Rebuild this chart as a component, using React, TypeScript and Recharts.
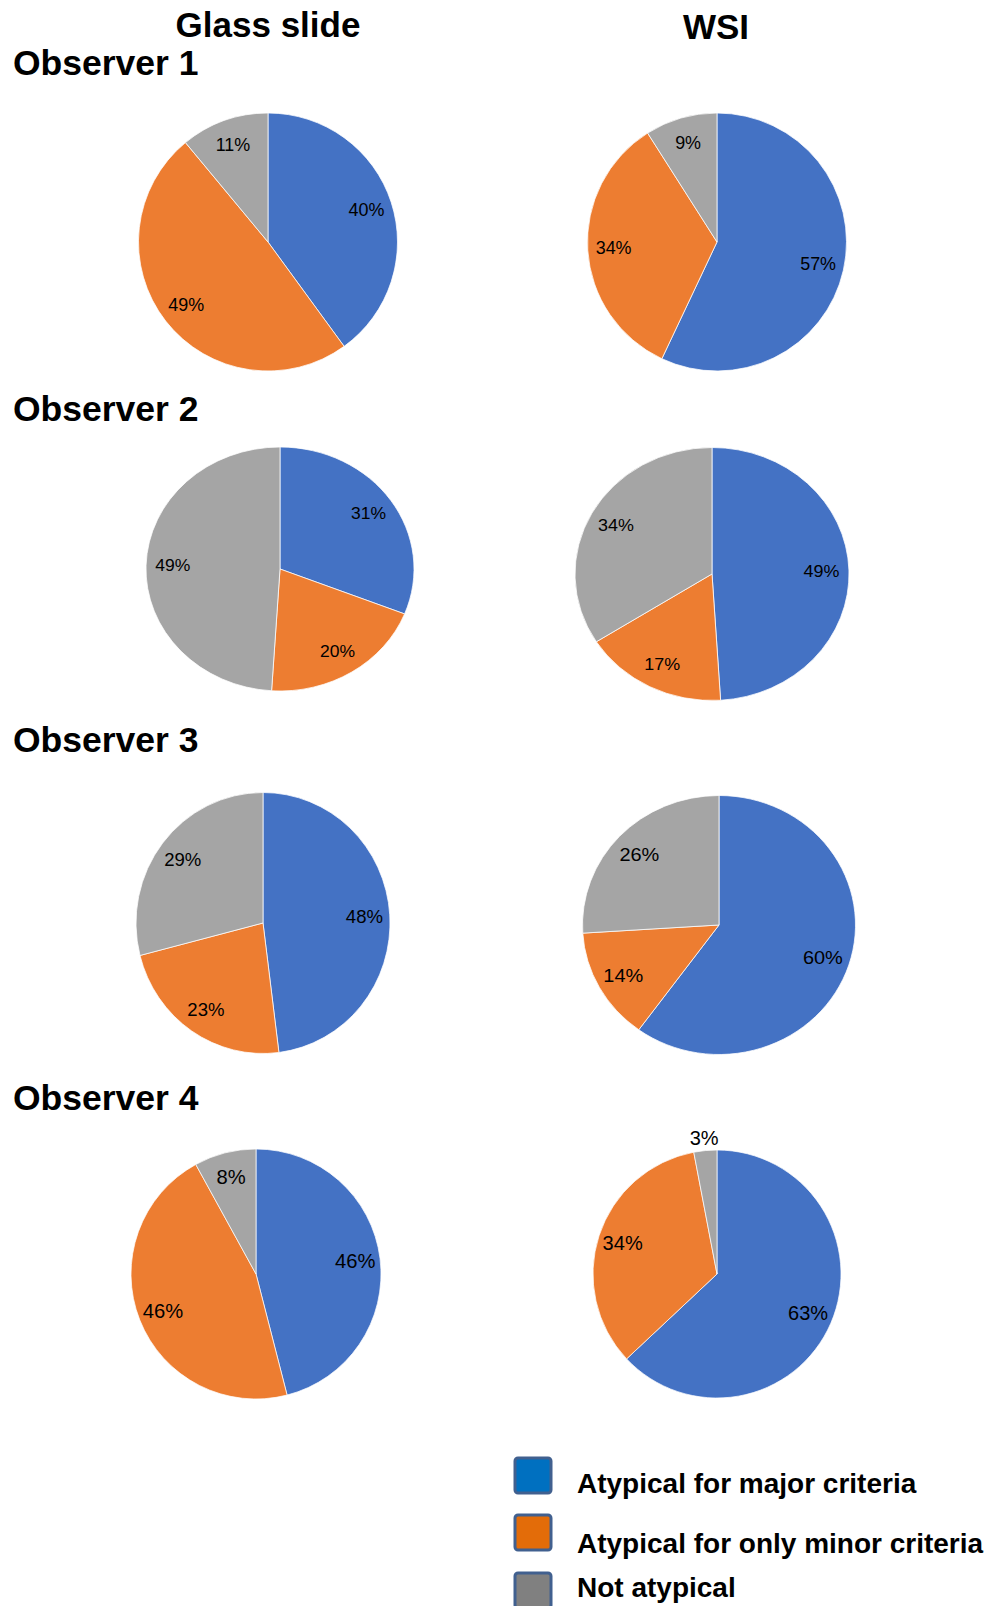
import React from 'react';
import { PieChart, Pie, Cell } from 'recharts';

// categories (legend order = slice order, clockwise from 12 o'clock)
const categories = ['Atypical for major criteria', 'Atypical for only minor criteria', 'Not atypical'];
const observers = ['Observer 1', 'Observer 2', 'Observer 3', 'Observer 4'];
const columns = ['Glass slide', 'WSI'];

// % of cases per observer
const glassSlide = [
  [40, 49, 11],
  [31, 20, 49],
  [48, 23, 29],
  [46, 46, 8],
];
const wsi = [
  [57, 34, 9],
  [49, 17, 34],
  [60, 14, 26],
  [63, 34, 3],
];

const sliceColors = ['#4472C4', '#ED7D31', '#A5A5A5'];
const legendColors = ['#0070C0', '#E36C09', '#808080'];

const FONT = '"Liberation Sans", Arial, Helvetica, sans-serif';
const SIZE = 320;
const R = 130;

// where each pie sits; rx/ry stretch the pie a bit like the pasted charts
const pieBoxes = [
  [{ cx: 268, cy: 242, rx: 129.5, ry: 129 }, { cx: 717, cy: 242, rx: 129.5, ry: 129 }],
  [{ cx: 280, cy: 569, rx: 134, ry: 122 }, { cx: 712, cy: 574, rx: 137, ry: 126.5 }],
  [{ cx: 263, cy: 923, rx: 127, ry: 130.5 }, { cx: 719, cy: 925, rx: 136.5, ry: 129.5 }],
  [{ cx: 256, cy: 1274, rx: 125, ry: 125 }, { cx: 717, cy: 1274, rx: 124, ry: 124 }],
];
const labelSizes = [18, 17, 19, 21];
const observerBaselines = [75, 421, 752, 1110];

const RAD = Math.PI / 180;

const makeLabel = (fontSize: number) => (props: any) => {
  const { cx, cy, midAngle, outerRadius, value } = props;
  // tiny slices get their label outside the pie
  const r = value < 5 ? outerRadius * 1.1 : outerRadius * 0.8;
  const x = cx + r * Math.cos(-midAngle * RAD);
  const y = cy + r * Math.sin(-midAngle * RAD);
  return (
    <text
      x={x}
      y={y}
      fill="#000"
      fontSize={fontSize}
      fontFamily={FONT}
      textAnchor="middle"
      dominantBaseline="central"
    >
      {`${value}%`}
    </text>
  );
};

const ObserverPie = ({ values, box, fontSize }: any) => {
  const data = categories.map((name, i) => ({ name, value: values[i] }));
  return (
    <div
      style={{
        position: 'absolute',
        left: box.cx - SIZE / 2,
        top: box.cy - SIZE / 2,
        width: SIZE,
        height: SIZE,
        transform: `scale(${box.rx / R}, ${box.ry / R})`,
        transformOrigin: 'center center',
      }}
    >
      <PieChart width={SIZE} height={SIZE} margin={{ top: 0, right: 0, bottom: 0, left: 0 }}>
        <Pie
          data={data}
          dataKey="value"
          nameKey="name"
          cx={SIZE / 2}
          cy={SIZE / 2}
          outerRadius={R}
          startAngle={90}
          endAngle={-270}
          stroke="#fff"
          strokeWidth={0.75}
          label={makeLabel(fontSize)}
          labelLine={false}
          isAnimationActive={false}
        >
          {data.map((d, i) => (
            <Cell key={d.name} fill={sliceColors[i]} />
          ))}
        </Pie>
      </PieChart>
    </div>
  );
};

export default function App() {
  return (
    <div
      style={{
        position: 'absolute',
        left: 0,
        top: 0,
        width: 1005,
        height: 1606,
        background: '#fff',
        overflow: 'hidden',
        fontFamily: FONT,
      }}
    >
      {/* headings and legend */}
      <svg width={1005} height={1606} style={{ position: 'absolute', left: 0, top: 0 }}>
        <text x={268} y={37} textAnchor="middle" fontSize={35} fontWeight="bold" fontFamily={FONT}>
          {columns[0]}
        </text>
        <text x={716} y={39} textAnchor="middle" fontSize={35} fontWeight="bold" fontFamily={FONT}>
          {columns[1]}
        </text>
        {observers.map((o, i) => (
          <text key={o} x={13} y={observerBaselines[i]} fontSize={35.5} fontWeight="bold" fontFamily={FONT}>
            {o}
          </text>
        ))}

        {categories.map((c, i) => (
          <g key={c}>
            <rect
              x={515}
              y={[1458, 1515, 1573][i]}
              width={36}
              height={35}
              rx={3}
              fill={legendColors[i]}
              stroke="#41608F"
              strokeWidth={3}
            />
            <text x={577} y={[1493, 1553, 1597][i]} fontSize={28} fontWeight="bold" fontFamily={FONT}>
              {c}
            </text>
          </g>
        ))}
      </svg>

      {observers.map((o, i) => (
        <React.Fragment key={o}>
          <ObserverPie values={glassSlide[i]} box={pieBoxes[i][0]} fontSize={labelSizes[i]} />
          <ObserverPie values={wsi[i]} box={pieBoxes[i][1]} fontSize={labelSizes[i]} />
        </React.Fragment>
      ))}
    </div>
  );
}
